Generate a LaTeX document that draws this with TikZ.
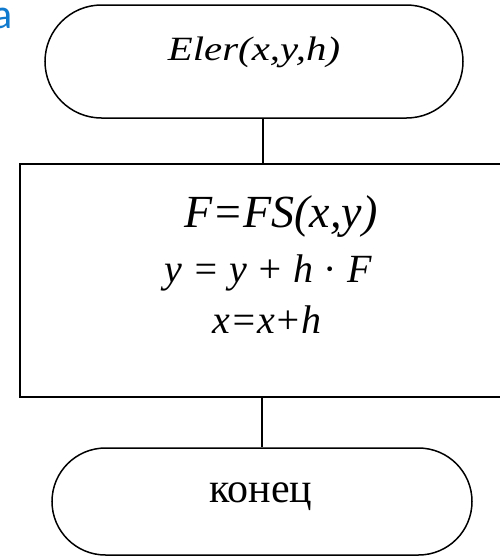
\documentclass[tikz,border=0pt]{standalone}
\usepackage{fontspec}
\setmainfont{Liberation Serif}
\newfontfamily\elerfont[FakeStretch=1.2]{Liberation Serif}
\newfontfamily\markfont{Carlito}
\usetikzlibrary{shapes.misc,positioning}
\definecolor{markblue}{RGB}{16,122,206}
\tikzset{
  terminal/.style={rounded rectangle,draw,line width=1.5pt,inner sep=0pt},
  process/.style={rectangle,draw,line width=1.5pt,inner sep=0pt},
  formula/.style={anchor=base,inner sep=0pt,font=\itshape\fontsize{40}{40}\selectfont},
  link/.style={line width=1.5pt}
}
\begin{document}
\begin{tikzpicture}[x=1pt,y=-1pt]
  \useasboundingbox (0,0) rectangle (500,557);
  \clip (0,0) rectangle (500,557);
  \node[anchor=base,text=markblue,font=\markfont\fontsize{42}{42}\selectfont] (mark) at (3,28) {a};
  \node[terminal,minimum width=418pt,minimum height=113pt] (start) at (254,61.5) {};
  \node[font=\elerfont\itshape\fontsize{34}{34}\selectfont] (name) at (254,52) {Eler(x,y,h)};
  \node[process,minimum width=490pt,minimum height=233pt] (calc) at (265,280.5) {};
  % formulas inside the process box
  \node[formula,font=\itshape\fontsize{46}{46}\selectfont] (line1) at (281,227) {F=FS(x,y)};
  \node[formula] (line2) at (268,282) {y = y + h {\upshape·} F};
  \node[formula] (line3) at (267,333) {x=x+h};
  \node[terminal,minimum width=420pt,minimum height=107pt] (stop) at (262,501.5) {};
  \node[font=\fontsize{42}{42}\selectfont] (word) at (261,497) {конец};
  \draw[link] ([xshift=9pt]start.south) -- ([xshift=9pt]start.south |- calc.north);
  \draw[link] (stop.north) -- (stop.north |- calc.south);
\end{tikzpicture}
\end{document}
